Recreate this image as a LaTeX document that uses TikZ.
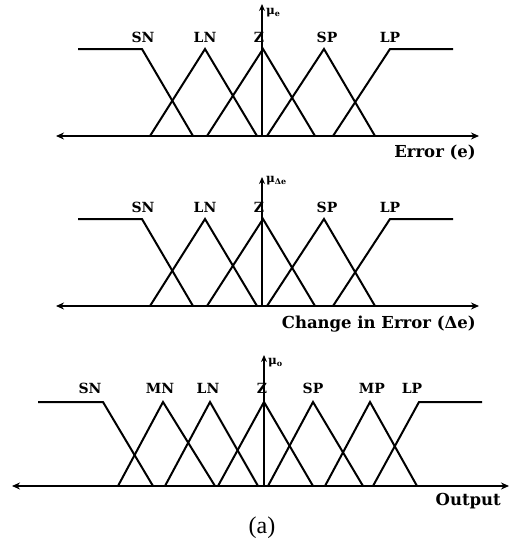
\documentclass[tikz,border=0pt]{standalone}
\usepackage{fontspec}
\setmainfont{Liberation Serif}
\newfontfamily\labfont{DejaVu Serif}
\usetikzlibrary{arrows.meta}
\newcommand{\musub}[1]{μ\raisebox{-1.5pt}{\fontsize{8}{9}\selectfont #1}}
\begin{document}
\begin{tikzpicture}[x=1pt,y=-1pt,
  mf/.style={line width=2pt,line join=miter},
  axis/.style={line width=2pt,{Stealth[length=8pt,width=7pt]}-{Stealth[length=8pt,width=7pt]}},
  vaxis/.style={line width=1.8pt,-{Stealth[length=7pt,width=6pt]}},
  lab/.style={font=\labfont\fontsize{14}{16}\selectfont\bfseries,inner sep=0pt},
  axname/.style={font=\labfont\fontsize{16.5}{18}\selectfont\bfseries,inner sep=0pt,anchor=east},
  mu/.style={font=\labfont\fontsize{12}{14}\selectfont\bfseries,inner sep=0pt,anchor=west}]
\useasboundingbox (0,0) rectangle (511,542);
% ---------- Panel 1 ----------
\coordinate (a1l) at (56,136); \coordinate (a1r) at (479,136);
\coordinate (v1b) at (262,136); \coordinate (v1t) at (262,4);
\draw[axis] (a1l) -- (a1r);
\draw[vaxis] (v1b) -- (v1t);
\node[mu] (mu1) at (266,13) {\musub{e}};
\draw[mf] (78,49) -- (142,49) -- (193,136);
\draw[mf] (150,136) -- (205,49) -- (257,136);
\draw[mf] (207,136) -- (263,49) -- (315,136);
\draw[mf] (267,136) -- (324,49) -- (375,136);
\draw[mf] (333,136) -- (390,49) -- (453,49);
\node[lab] (sn1) at (143,37) {SN};
\node[lab] (ln1) at (205,37) {LN};
\node[lab] (z1) at (259,37) {Z};
\node[lab] (sp1) at (327,37) {SP};
\node[lab] (lp1) at (390,37) {LP};
\node[axname] (ax1) at (476,153) {Error (e)};
% ---------- Panel 2 ----------
\coordinate (a2l) at (56,306); \coordinate (a2r) at (479,306);
\coordinate (v2b) at (262,306); \coordinate (v2t) at (262,177);
\draw[axis] (a2l) -- (a2r);
\draw[vaxis] (v2b) -- (v2t);
\node[mu] (mu2) at (266,181) {\musub{Δe}};
\draw[mf] (78,219) -- (142,219) -- (193,306);
\draw[mf] (150,306) -- (205,219) -- (257,306);
\draw[mf] (207,306) -- (263,219) -- (315,306);
\draw[mf] (267,306) -- (324,219) -- (375,306);
\draw[mf] (333,306) -- (390,219) -- (453,219);
\node[lab] (sn2) at (143,207) {SN};
\node[lab] (ln2) at (205,207) {LN};
\node[lab] (z2) at (259,207) {Z};
\node[lab] (sp2) at (327,207) {SP};
\node[lab] (lp2) at (390,207) {LP};
\node[axname] (ax2) at (476,324) {Change in Error (Δe)};
% ---------- Panel 3 ----------
\coordinate (a3l) at (12,486); \coordinate (a3r) at (509,486);
\coordinate (v3b) at (264,486); \coordinate (v3t) at (264,355);
\draw[axis] (a3l) -- (a3r);
\draw[vaxis] (v3b) -- (v3t);
\node[mu] (mu3) at (268,363) {\musub{o}};
\draw[mf] (38,402) -- (103,402) -- (153,486);
\draw[mf] (118,486) -- (163,402) -- (215,486);
\draw[mf] (165,486) -- (210,402) -- (258,486);
\draw[mf] (218,486) -- (264,402) -- (313,486);
\draw[mf] (268,486) -- (313,402) -- (363,486);
\draw[mf] (325,486) -- (370,402) -- (417,486);
\draw[mf] (373,486) -- (419,402) -- (482,402);
\node[lab] (sn3) at (90,388) {SN};
\node[lab] (mn3) at (160,388) {MN};
\node[lab] (ln3) at (208,388) {LN};
\node[lab] (z3) at (262,388) {Z};
\node[lab] (sp3) at (313,388) {SP};
\node[lab] (mp3) at (372,388) {MP};
\node[lab] (lp3) at (412,388) {LP};
\node[axname] (ax3) at (501,501) {Output};
% caption
\node[inner sep=0pt,font=\fontsize{24}{26}\selectfont] (cap) at (262,528) {(a)};
\end{tikzpicture}
\end{document}
